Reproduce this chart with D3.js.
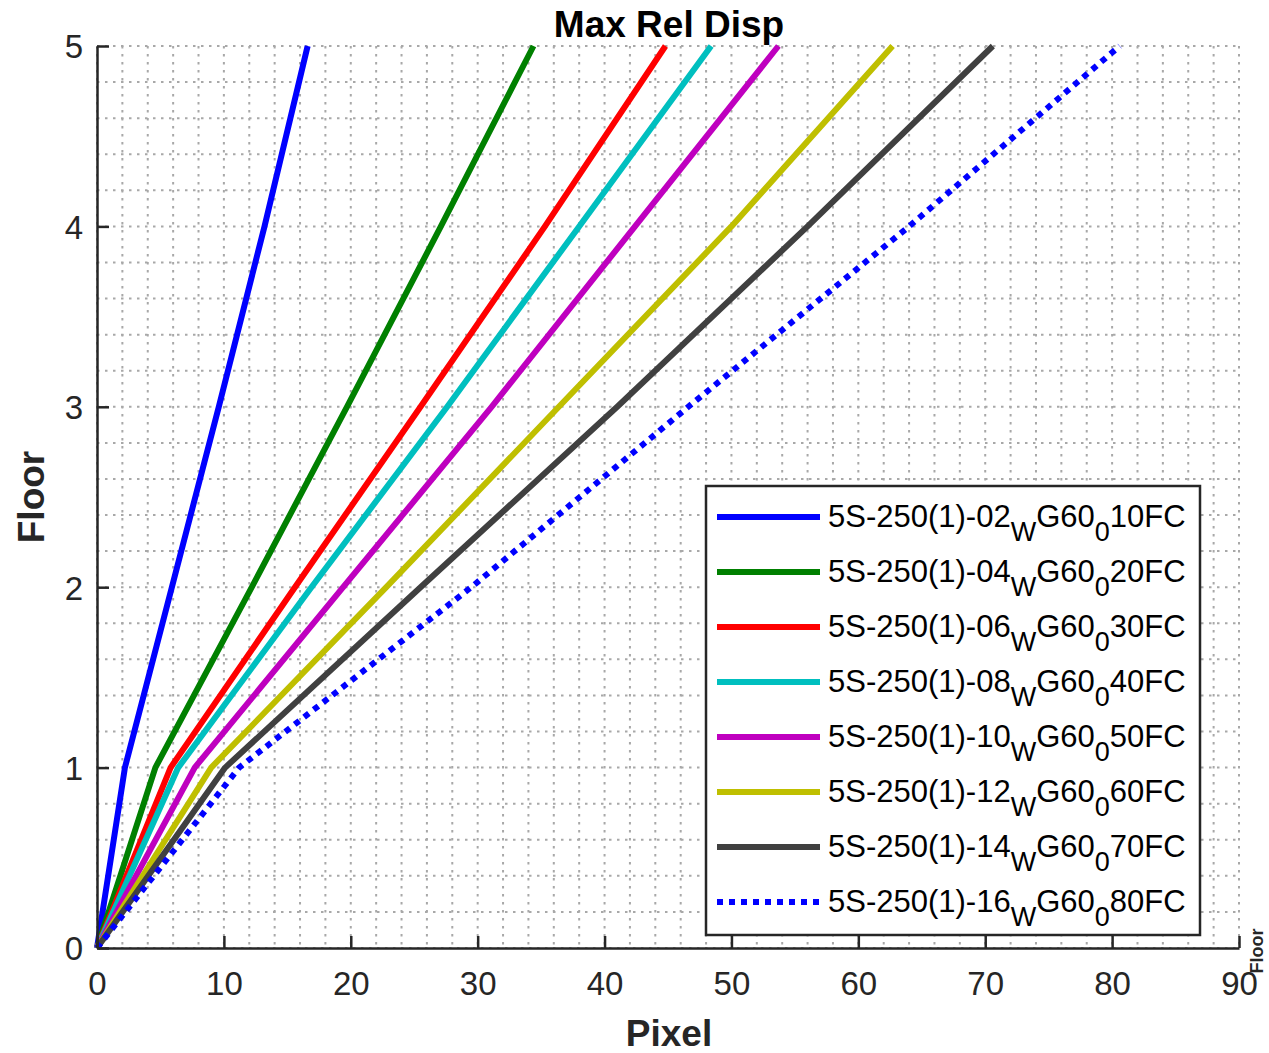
<!DOCTYPE html>
<html><head><meta charset="utf-8">
<script src="https://cdn.jsdelivr.net/npm/d3@7"></script>
<style>body{margin:0;background:#fff;} text{font-family:"Liberation Sans",Arial,sans-serif;}</style>
</head><body>
<svg id="chart" width="1269" height="1053"></svg>
<script>
const floors = [0, 1, 2, 3, 4, 5];
const seriesNames = ["02", "04", "06", "08", "10", "12", "14", "16"];
const seriesSuffix = ["10FC", "20FC", "30FC", "40FC", "50FC", "60FC", "70FC", "80FC"];
const s02 = [0, 2.2, 5.9, 9.6, 13.2, 16.6];
const s04 = [0, 4.6, 12.2, 19.7, 27.1, 34.4];
const s06 = [0, 5.8, 15.6, 25.5, 35.3, 44.8];
const s08 = [0, 6.4, 16.9, 27.6, 38.0, 48.4];
const s10 = [0, 7.7, 19.4, 31.1, 42.4, 53.7];
const s12 = [0, 9.0, 22.8, 36.4, 50.0, 62.7];
const s14 = [0, 10.1, 25.5, 41.0, 56.0, 70.6];
const s16 = [0, 11.2, 29.5, 46.6, 64.0, 80.6];
const seriesValues = [s02, s04, s06, s08, s10, s12, s14, s16];
const colors = ["#0000ff", "#008000", "#ff0000", "#00bfbf", "#bf00bf", "#bfbf00", "#404040", "#0000ff"];
const dashes = [null, null, null, null, null, null, null, "6,6"];
const xTicks = [0, 10, 20, 30, 40, 50, 60, 70, 80, 90];
const yTicks = [0, 1, 2, 3, 4, 5];

const svg = d3.select("#chart");
const L = 97, R = 1239, T = 46, B = 948;
const x = d3.scaleLinear().domain([0, 90]).range([L, R]);
const y = d3.scaleLinear().domain([0, 5]).range([B, T]);
const axisColor = "#262626";

// grid (dotted)
const grid = svg.append("g");
const gx = d3.range(0, 90.001, 2);
const gy = d3.range(0, 5.001, 0.2);
grid.selectAll("line.gx").data(gx).join("line")
  .attr("x1", d => x(d)).attr("x2", d => x(d)).attr("y1", T).attr("y2", B)
  .attr("stroke", "#a8a8a8").attr("stroke-width", 2).attr("stroke-dasharray", "2.5,5.5");
grid.selectAll("line.gy").data(gy).join("line")
  .attr("y1", d => y(d)).attr("y2", d => y(d)).attr("x1", L).attr("x2", R)
  .attr("stroke", "#a8a8a8").attr("stroke-width", 2).attr("stroke-dasharray", "2.5,5.5");

// series
const line = d3.line().x(d => x(d[0])).y(d => y(d[1]));
seriesValues.forEach((vals, i) => {
  const pts = vals.map((v, k) => [v, floors[k]]);
  svg.append("path").datum(pts).attr("d", line)
    .attr("fill", "none").attr("stroke", colors[i]).attr("stroke-width", 6)
    .attr("stroke-linejoin", "round")
    .attr("stroke-dasharray", dashes[i]);
});

// axes
const xAxis = svg.append("g").attr("transform", `translate(0,${B})`)
  .call(d3.axisBottom(x).tickValues(xTicks).tickFormat(d3.format("d")).tickSizeInner(-12).tickSizeOuter(0).tickPadding(24));
const yAxis = svg.append("g").attr("transform", `translate(${L},0)`)
  .call(d3.axisLeft(y).tickValues(yTicks).tickFormat(d3.format("d")).tickSizeInner(-12).tickSizeOuter(0).tickPadding(14));
[xAxis, yAxis].forEach(a => {
  a.select(".domain").attr("stroke", axisColor).attr("stroke-width", 2.5);
  a.selectAll(".tick line").attr("stroke", axisColor).attr("stroke-width", 2.5);
  a.selectAll(".tick text").attr("fill", axisColor).attr("font-size", 33)
    .attr("font-family", "Liberation Sans, Arial, sans-serif");
});
xAxis.selectAll(".tick text").attr("dy", "0.71em");
yAxis.selectAll(".tick text").attr("dy", "0.36em");

// title and labels
svg.append("text").attr("x", 669).attr("y", 37).attr("text-anchor", "middle")
  .attr("font-size", 37).attr("font-weight", "bold").attr("fill", "#000").text("Max Rel Disp");
svg.append("text").attr("x", 669).attr("y", 1046).attr("text-anchor", "middle")
  .attr("font-size", 37).attr("font-weight", "bold").attr("fill", axisColor).text("Pixel");
svg.append("text").attr("transform", `translate(44,${(T + B) / 2}) rotate(-90)`).attr("text-anchor", "middle")
  .attr("font-size", 37).attr("font-weight", "bold").attr("fill", axisColor).text("Floor");
svg.append("text").attr("transform", `translate(1263,951) rotate(-90)`).attr("text-anchor", "middle")
  .attr("font-size", 18).attr("font-weight", "bold").attr("fill", axisColor).text("Floor");

// legend
const lg = svg.append("g");
lg.append("rect").attr("x", 706).attr("y", 486).attr("width", 494).attr("height", 449)
  .attr("fill", "#fff").attr("stroke", axisColor).attr("stroke-width", 2.5);
seriesNames.forEach((nm, i) => {
  const ly = 517 + i * 55;
  lg.append("line").attr("x1", 717).attr("x2", 820).attr("y1", ly).attr("y2", ly)
    .attr("stroke", colors[i]).attr("stroke-width", 6).attr("stroke-dasharray", dashes[i]);
  const t = lg.append("text").attr("x", 828).attr("y", ly + 10).attr("font-size", 31).attr("fill", "#000");
  t.append("tspan").text("5S-250(1)-" + nm);
  t.append("tspan").attr("dy", 14).attr("font-size", 27).text("W");
  t.append("tspan").attr("dy", -14).text("G60");
  t.append("tspan").attr("dy", 14).attr("font-size", 27).text("0");
  t.append("tspan").attr("dy", -14).text(seriesSuffix[i]);
});
</script>
</body></html>
